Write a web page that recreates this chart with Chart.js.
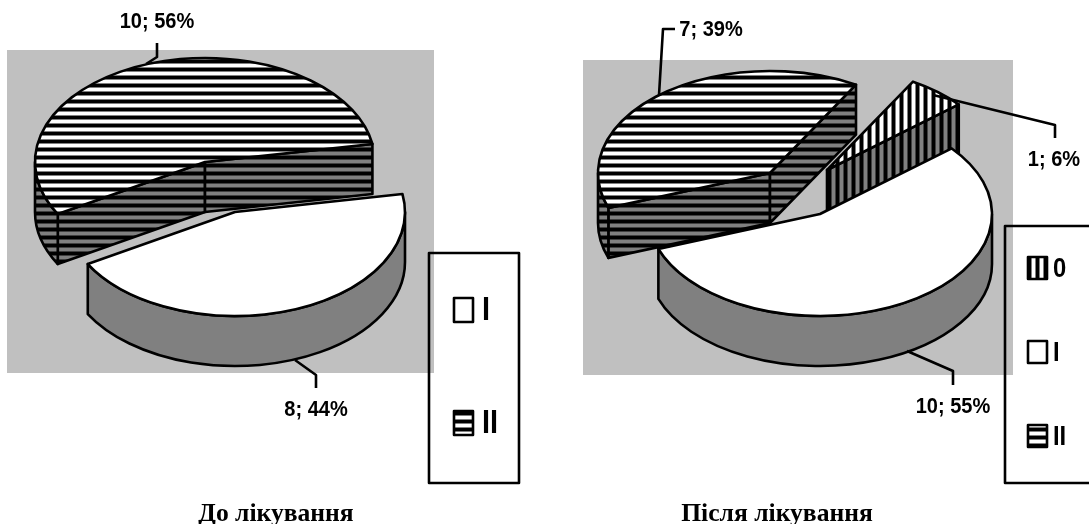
<!DOCTYPE html>
<html>
<head>
<meta charset="utf-8">
<style>
  html, body { margin: 0; padding: 0; background: #fff; }
  #wrap { position: relative; width: 1089px; height: 524px; overflow: hidden; }
  .layer { position: absolute; left: 0; top: 0; }
</style>
<script src="https://cdn.jsdelivr.net/npm/chart.js@4"></script>
</head>
<body>
<div id="wrap">
  <canvas id="before" class="layer" width="1089" height="524"></canvas>
  <canvas id="after" class="layer" width="1089" height="524"></canvas>
</div>
<script>
const beforeCategories = ['I', 'II'];
const beforeValues = [8, 10];
const beforeLabels = ['8; 44%', '10; 56%'];
const beforeFills = ['blank', 'horizontal'];

const afterCategories = ['0', 'I', 'II'];
const afterValues = [1, 10, 7];
const afterLabels = ['1; 6%', '10; 55%', '7; 39%'];
const afterFills = ['vertical', 'blank', 'horizontal'];

const GRAY_BG = '#c0c0c0';
const WALL = '#808080';

// 8px hatch: 3 black, 1 blurred, 3 background, 1 blurred
function tile(kind, bg, mid) {
  const c = document.createElement('canvas');
  const vertical = kind === 'vertical';
  c.width = vertical ? 8 : 4;
  c.height = vertical ? 4 : 8;
  const g = c.getContext('2d');
  g.fillStyle = bg;
  g.fillRect(0, 0, c.width, c.height);
  const band = (from, n, col) => {
    g.fillStyle = col;
    if (vertical) g.fillRect(from, 0, n, 4);
    else g.fillRect(0, from, 4, n);
  };
  band(3, 1, mid);
  band(4, 3, '#000');
  band(7, 1, mid);
  return c;
}

function fillFor(ctx, kind, bg) {
  if (kind === 'blank') return bg;
  return ctx.createPattern(tile(kind, bg, bg === WALL ? '#404040' : '#808080'), 'repeat');
}

// draws the arcs as a tilted, extruded pie, from the angles the controller computed
const pie3d = {
  id: 'pie3d',
  beforeDatasetsDraw(chart, args, o) {
    const ctx = chart.ctx;
    const arcs = chart.getDatasetMeta(0).data;
    const fills = chart.data.datasets[0].fills;

    // plot background
    ctx.fillStyle = GRAY_BG;
    ctx.fillRect(o.plot[0], o.plot[1], o.plot[2] - o.plot[0], o.plot[3] - o.plot[1]);

    const slices = arcs.map((a, i) => ({
      start: a.startAngle, end: a.endAngle, rx: a.outerRadius, ry: a.outerRadius * o.tilt,
      cx: a.x + o.explode[i][0], cy: a.y + o.explode[i][1], kind: fills[i]
    }));
    slices.sort((a, b) => a.cy - b.cy);

    ctx.lineWidth = 2.6;
    ctx.strokeStyle = '#000';
    ctx.lineJoin = 'round';

    slices.forEach(s => {
      const wall = fillFor(ctx, s.kind, WALL);
      const px = t => s.cx + s.rx * Math.cos(t);
      const py = t => s.cy + s.ry * Math.sin(t);
      const face = t => {
        ctx.beginPath();
        ctx.moveTo(s.cx, s.cy);
        ctx.lineTo(px(t), py(t));
        ctx.lineTo(px(t), py(t) + o.depth);
        ctx.lineTo(s.cx, s.cy + o.depth);
        ctx.closePath();
        ctx.fillStyle = wall;
        ctx.fill();
        ctx.stroke();
      };
      if (Math.cos(s.start) < 0) face(s.start);
      if (Math.cos(s.end) > 0) face(s.end);

      // outer wall, only the part that faces the viewer
      const two = Math.PI * 2;
      for (let k = -1; k <= 1; k++) {
        const lo = Math.max(s.start, k * two), hi = Math.min(s.end, k * two + Math.PI);
        if (hi > lo) {
          ctx.beginPath();
          ctx.ellipse(s.cx, s.cy, s.rx, s.ry, 0, lo, hi);
          ctx.ellipse(s.cx, s.cy + o.depth, s.rx, s.ry, 0, hi, lo, true);
          ctx.closePath();
          ctx.fillStyle = wall;
          ctx.fill();
          ctx.stroke();
        }
      }

      // top
      ctx.beginPath();
      ctx.moveTo(s.cx, s.cy);
      ctx.ellipse(s.cx, s.cy, s.rx, s.ry, 0, s.start, s.end);
      ctx.closePath();
      ctx.fillStyle = fillFor(ctx, s.kind, '#fff');
      ctx.fill();
      ctx.stroke();
    });

    // leader lines
    o.leaders.forEach(pts => {
      ctx.beginPath();
      pts.forEach((p, i) => i ? ctx.lineTo(p[0], p[1]) : ctx.moveTo(p[0], p[1]));
      ctx.stroke();
    });

    // data labels, narrowed a little like the original
    ctx.fillStyle = '#000';
    ctx.font = 'bold 22px "Liberation Sans"';
    ctx.textAlign = 'center';
    ctx.textBaseline = 'middle';
    chart.data.datasets[0].texts.forEach((t, i) => {
      ctx.fillText(t, o.labelPos[i][0], o.labelPos[i][1], ctx.measureText(t).width * 0.91);
    });

    // legend
    const lg = o.legend;
    ctx.strokeRect(lg.box[0], lg.box[1], lg.box[2], lg.box[3]);
    chart.data.labels.forEach((name, i) => {
      const y = lg.ys[i];
      ctx.fillStyle = fillFor(ctx, fills[i], '#fff');
      ctx.fillRect(lg.x, y, lg.w, lg.h);
      ctx.strokeRect(lg.x, y, lg.w, lg.h);
      ctx.fillStyle = '#000';
      ctx.font = 'bold ' + lg.font + 'px "Liberation Sans"';
      ctx.textAlign = 'left';
      ctx.textBaseline = 'middle';
      ctx.fillText(name, lg.x + lg.w + lg.gap, y + lg.h / 2 + 1, ctx.measureText(name).width * 0.85);
    });

    // caption
    ctx.font = 'bold 25.6px "Liberation Serif"';
    ctx.textAlign = 'center';
    ctx.textBaseline = 'alphabetic';
    ctx.fillText(o.caption, o.captionX, 521);
    return false;
  }
};

function makePie(id, cats, values, fills, texts, padding, radius, rotation, o) {
  return new Chart(document.getElementById(id), {
    type: 'pie',
    data: {
      labels: cats,
      datasets: [{ data: values, fills: fills, texts: texts, borderWidth: 0, backgroundColor: '#fff', radius: radius }]
    },
    options: {
      responsive: false,
      animation: false,
      rotation: rotation,
      layout: { padding: padding },
      plugins: { legend: { display: false }, tooltip: { enabled: false }, pie3d: o }
    },
    plugins: [pie3d]
  });
}

makePie('before', beforeCategories, beforeValues, beforeFills, beforeLabels,
  { left: 35, right: 714, top: 0, bottom: 200 }, 170, 80, {
    plot: [7, 50, 434, 373], tilt: 0.612, depth: 50,
    explode: [[30, 50], [0, 0]],
    leaders: [[[295, 360], [316, 375], [316, 388]], [[146, 64], [157, 57], [157, 43]]],
    labelPos: [[316, 410], [157, 22]],
    legend: { box: [429, 253, 90, 230], x: 454, w: 19, h: 24, ys: [298, 411], font: 34, gap: 9 },
    caption: 'До лікування', captionX: 276
  });

makePie('after', afterCategories, afterValues, afterFills, afterLabels,
  { left: 598, right: 147, top: 0, bottom: 178 }, 172, 30, {
    plot: [583, 60, 1013, 375], tilt: 0.593, depth: 50,
    explode: [[57, -3], [50, 41], [0, 0]],
    leaders: [[[933, 95], [1055, 125], [1055, 138]], [[907, 351], [953, 371], [953, 385]], [[659, 95], [663, 29], [675, 29]]],
    labelPos: [[1054, 160], [953, 407], [711, 30]],
    legend: { box: [1005, 226, 100, 257], x: 1028, w: 19, h: 22, ys: [257, 341, 425], font: 28, gap: 6 },
    caption: 'Після лікування', captionX: 777
  });
</script>
</body>
</html>
